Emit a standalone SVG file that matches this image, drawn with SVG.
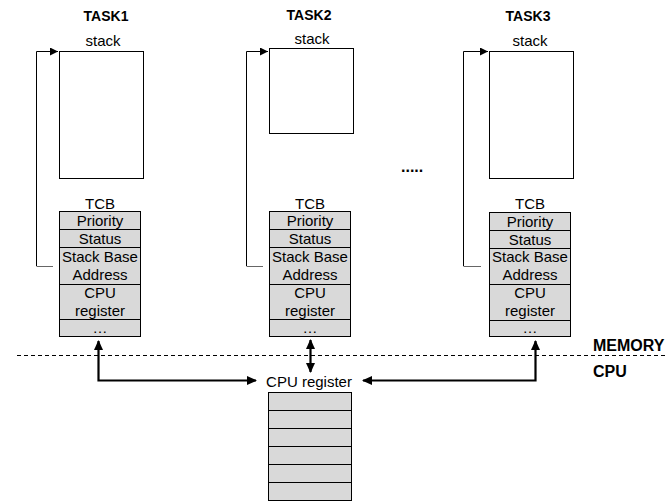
<svg xmlns="http://www.w3.org/2000/svg" width="669" height="503" viewBox="0 0 669 503">
<style>
text{font-family:"Liberation Sans",Arial,sans-serif;fill:#000}
.t{font-size:15px;text-anchor:middle}
.h{font-size:14px;font-weight:bold;text-anchor:middle}
.b{font-size:16px;font-weight:bold}
.stk{fill:#fff;stroke:#000;stroke-width:1}
.tcb{fill:#d9d9d9;stroke:#000;stroke-width:1}
.row{fill:none;stroke:#000;stroke-width:1}
.ln{fill:none;stroke:#000;stroke-width:1}
.lg{fill:none;stroke:#666;stroke-width:1}
.ar{fill:none;stroke:#000;stroke-width:2.2}
</style>
<defs>
<marker id="sm" viewBox="0 0 8 8" refX="8" refY="4" markerWidth="8" markerHeight="8" markerUnits="userSpaceOnUse" orient="auto"><path d="M0,0 L8,4 L0,8 z" fill="#000"/></marker>
<marker id="bm" viewBox="0 0 10 10" refX="9" refY="5" markerWidth="10" markerHeight="10" markerUnits="userSpaceOnUse" orient="auto-start-reverse"><path d="M0,0.5 L10,5 L0,9.5 z" fill="#000"/></marker>
</defs>

<g id="task1">
<text class="h" x="106" y="21">TASK1</text>
<text class="t" x="103" y="46">stack</text>
<rect class="stk" x="59.5" y="51.5" width="84" height="127"/>
<text class="t" x="100" y="209">TCB</text>
<rect class="tcb" x="59.5" y="211.5" width="81" height="125"/>
<path class="row" d="M59.5,229.5H140.5M59.5,247.5H140.5M59.5,284.5H140.5M59.5,319.5H140.5"/>
<text class="t" x="100" y="226">Priority</text>
<text class="t" x="100" y="244">Status</text>
<text class="t" x="100" y="262">Stack Base</text>
<text class="t" x="100" y="280">Address</text>
<text class="t" x="100" y="298">CPU</text>
<text class="t" x="100" y="316">register</text>
<text class="t" x="100" y="333">…</text>
</g>

<g id="task2">
<text class="h" x="309" y="20">TASK2</text>
<text class="t" x="312" y="44">stack</text>
<rect class="stk" x="269.5" y="48.5" width="84" height="85"/>
<text class="t" x="310" y="209">TCB</text>
<rect class="tcb" x="269.5" y="211.5" width="81" height="125"/>
<path class="row" d="M269.5,229.5H350.5M269.5,247.5H350.5M269.5,284.5H350.5M269.5,319.5H350.5"/>
<text class="t" x="310" y="226">Priority</text>
<text class="t" x="310" y="244">Status</text>
<text class="t" x="310" y="262">Stack Base</text>
<text class="t" x="310" y="280">Address</text>
<text class="t" x="310" y="298">CPU</text>
<text class="t" x="310" y="316">register</text>
<text class="t" x="310" y="333">…</text>
</g>

<g id="task3">
<text class="h" x="528" y="21">TASK3</text>
<text class="t" x="530" y="46">stack</text>
<rect class="stk" x="489.5" y="51.5" width="84" height="127"/>
<text class="t" x="530" y="209">TCB</text>
<rect class="tcb" x="489.5" y="212.5" width="81" height="124"/>
<path class="row" d="M489.5,230.5H570.5M489.5,248.5H570.5M489.5,284.5H570.5M489.5,320.5H570.5"/>
<text class="t" x="530" y="227">Priority</text>
<text class="t" x="530" y="245">Status</text>
<text class="t" x="530" y="262">Stack Base</text>
<text class="t" x="530" y="280">Address</text>
<text class="t" x="530" y="298">CPU</text>
<text class="t" x="530" y="316">register</text>
<text class="t" x="530" y="333">…</text>
</g>

<g id="dots">
<text class="b" x="401" y="172">.....</text>
</g>

<g id="cpu-register">
<text class="t" x="309" y="387">CPU register</text>
<rect class="tcb" x="268.5" y="392.5" width="83" height="108"/>
<path class="row" d="M268.5,410.5H351.5M268.5,428.5H351.5M268.5,446.5H351.5M268.5,464.5H351.5M268.5,482.5H351.5"/>
</g>

<g id="boundary">
<line x1="17" y1="355.5" x2="666" y2="355.5" stroke="#000" stroke-width="1" stroke-dasharray="4,3"/>
<text class="b" x="593" y="351">MEMORY</text>
<text class="b" x="593" y="377">CPU</text>
</g>

<g id="connectors">
<path class="ln" d="M36.5,266V51.5H58" marker-end="url(#sm)"/>
<path class="lg" d="M36.5,266.5H53"/>
<path class="ln" d="M246.5,266V51.5H268" marker-end="url(#sm)"/>
<path class="lg" d="M246.5,266.5H263"/>
<path class="ln" d="M463.5,266V51.5H488" marker-end="url(#sm)"/>
<path class="lg" d="M463.5,266.5H481"/>
<path class="ar" d="M98.5,341V380.5H256" marker-start="url(#bm)" marker-end="url(#bm)"/>
<path class="ar" d="M310.5,340V372" marker-start="url(#bm)" marker-end="url(#bm)"/>
<path class="ar" d="M535.5,341V380.5H363" marker-start="url(#bm)" marker-end="url(#bm)"/>
</g>
</svg>
